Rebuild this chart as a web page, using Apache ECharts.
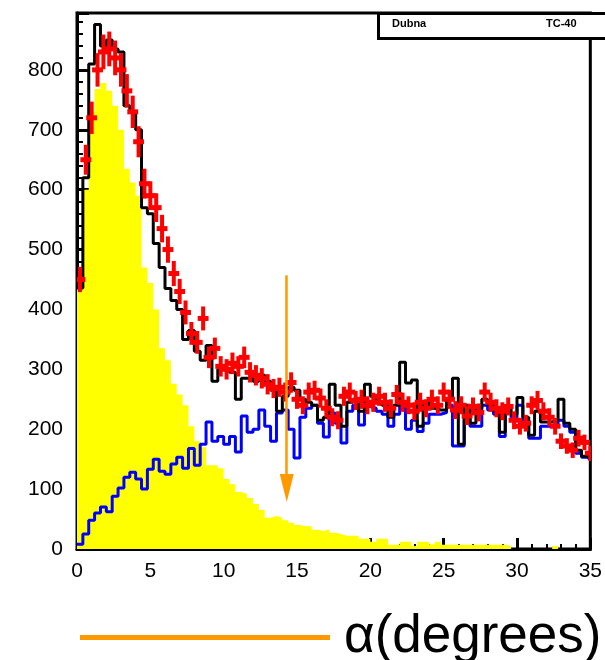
<!DOCTYPE html>
<html>
<head>
<meta charset="utf-8">
<script src="https://cdn.jsdelivr.net/npm/echarts@6/dist/echarts.min.js"></script>
<style>html,body{margin:0;padding:0;background:#fff}#c{width:605px;height:660px}</style>
</head>
<body>
<div id="c"></div>
<script>
// Bin layout: 0.4 degree bins from 0 to 35
const binWidth = 0.4;
const xTicks = [0, 5, 10, 15, 20, 25, 30, 35];
const yTicks = [0, 100, 200, 300, 400, 500, 600, 700, 800];

// Yellow filled histogram (component 1)
const yellowCounts = [436,600,730,768,778,765,740,700,635,612,
  590,470,444,400,335,315,276,258,240,205,
  180,170,140,140,135,117,108,95,92,85,
  75,65,52,55,52,48,44,40,38,38,
  32,30,33,27,25,22,22,22,17,17,
  12,17,17,7,7,12,12,5,12,12,
  8,12,7,7,7,7,7,7,7,7,
  7,7,7,5,0,0,0,0,0,0,
  0,5,0,0,0,0,0,0];

// Blue histogram (component 2)
const blueCounts = [8,25,48,60,70,62,88,102,120,128,
  117,100,133,150,130,125,142,153,135,168,
  140,175,212,180,188,175,188,162,222,195,
  200,232,205,180,227,232,200,152,220,235,
  240,210,187,227,210,177,230,240,207,238,
  235,230,225,205,225,240,200,215,196,210,
  225,225,228,240,172,172,225,205,205,240,
  232,225,188,228,220,240,215,185,185,205,
  205,208,215,205,195,160,153,150];

// Black histogram (total simulation)
const blackCounts = [436,620,810,876,840,850,835,830,740,730,
  700,570,560,510,470,435,415,400,350,365,
  330,315,340,280,300,300,295,250,285,285,
  280,290,280,265,230,255,270,265,250,245,
  240,215,220,275,240,205,245,250,230,275,
  255,245,240,220,240,312,277,282,205,245,
  235,232,232,250,285,175,240,210,235,250,
  240,230,195,235,225,253,220,190,230,212,
  212,215,250,210,200,165,155,153];

// Red data points with errors
const redCounts = [450,650,720,800,830,835,820,800,765,730,
  680,610,590,570,535,500,460,430,395,360,
  345,385,320,335,305,300,310,305,320,295,
  290,285,275,268,270,262,278,250,240,262,
  265,252,235,220,215,255,262,248,250,240,
  245,255,245,235,258,245,240,230,245,235,
  250,240,262,250,232,240,222,238,228,262,
  245,235,230,238,215,205,210,240,248,230,
  220,205,180,172,165,185,178,160];
const redErrors = [21,25,27,28,29,29,29,28,28,27,
  26,25,24,24,23,22,21,21,20,19,
  19,20,18,18,17,17,18,17,18,17,
  17,17,17,16,16,16,17,16,15,16,
  16,16,15,15,15,16,16,16,16,15,
  16,16,16,15,16,16,15,15,16,15,
  16,15,16,16,15,15,15,15,15,16,
  16,15,15,15,15,14,14,15,16,15,
  15,14,13,13,13,14,13,13];

// Cut arrow (alpha cut) annotation
const cutName = 'α(degrees)';
const cutX = 14.3;
const cutTop = 457;
const cutBottom = 102;

const xMin = 0, xMax = 35, yMin = 0, yMax = 895;

function stepData(counts) {
  const d = counts.map((v, i) => [i * binWidth, v]);
  d.push([xMax, counts[counts.length - 1]]);
  return d;
}
const redData = redCounts.map((v, i) => [(i + 0.5) * binWidth, v, redErrors[i]]);

const chart = echarts.init(document.getElementById('c'), null, {renderer: 'canvas'});
const font = 'Liberation Sans, Arial, sans-serif';
chart.setOption({
  animation: false,
  backgroundColor: '#ffffff',
  grid: {left: 77, right: 11, top: 13, bottom: 111, show: true, borderColor: '#000', borderWidth: 3, backgroundColor: 'transparent'},
  xAxis: {
    type: 'value', min: xMin, max: xMax, interval: 5,
    axisLine: {onZero: false, lineStyle: {color: '#000', width: 3}},
    axisTick: {inside: true, length: 11, lineStyle: {color: '#000', width: 3}},
    minorTick: {show: true, splitNumber: 5, length: 5, lineStyle: {color: '#000', width: 2}},
    splitLine: {show: false},
    axisLabel: {color: '#000', fontSize: 21, fontFamily: font, margin: 12,
      formatter: v => xTicks.includes(v) ? String(v) : ''}
  },
  yAxis: {
    type: 'value', min: yMin, max: yMax, interval: 100,
    axisLine: {onZero: false, lineStyle: {color: '#000', width: 3}},
    axisTick: {inside: true, length: 12, lineStyle: {color: '#000', width: 3}},
    minorTick: {show: true, splitNumber: 5, length: 6, lineStyle: {color: '#000', width: 2}},
    splitLine: {show: false},
    axisLabel: {color: '#000', fontSize: 21, fontFamily: font, margin: 14, showMaxLabel: false,
      formatter: v => yTicks.includes(v) ? String(v) : ''}
  },
  legend: {
    left: 75, top: 606,
    itemWidth: 250, itemHeight: 5, icon: 'rect',
    data: [{name: cutName, icon: 'rect'}],
    textStyle: {fontSize: 53, fontFamily: font, color: '#000', padding: [0, 0, 0, 9]},
    selectedMode: false
  },
  series: [
    {type: 'line', name: 'yellow', step: 'end', data: stepData(yellowCounts), showSymbol: false, symbol: 'none',
      lineStyle: {width: 0, color: '#ffff00'}, itemStyle: {color: '#ffff00'}, areaStyle: {color: '#ffff00', opacity: 1}, z: 1, clip: true},
    {type: 'line', name: 'blue', step: 'end', data: stepData(blueCounts), showSymbol: false, symbol: 'none',
      lineStyle: {width: 3, color: '#0000ff'}, itemStyle: {color: '#0000ff'}, z: 2, clip: true},
    {type: 'line', name: 'black', step: 'end', data: stepData(blackCounts), showSymbol: false, symbol: 'none',
      lineStyle: {width: 3, color: '#000000'}, itemStyle: {color: '#000000'}, z: 3, clip: true},
    {type: 'custom', name: 'data', data: redData, z: 4, clip: true,
      renderItem: function (params, api) {
        const xc = api.value(0), y = api.value(1), e = api.value(2);
        const l = api.coord([xc - binWidth / 2, y]), r = api.coord([xc + binWidth / 2, y]);
        const t = api.coord([xc, y + e]), b = api.coord([xc, y - e]);
        return {type: 'group', children: [
          {type: 'line', shape: {x1: l[0], y1: l[1], x2: r[0], y2: r[1]}, style: {stroke: '#ff0000', lineWidth: 5, lineCap: 'square'}},
          {type: 'line', shape: {x1: t[0], y1: t[1], x2: b[0], y2: b[1]}, style: {stroke: '#ff0000', lineWidth: 4}}
        ]};
      }
    },
    {type: 'line', name: cutName, data: [], itemStyle: {color: '#ff9900'}, lineStyle: {color: '#ff9900'}, z: 5,
      markLine: {
        silent: true, animation: false,
        symbol: ['none', 'triangle'], symbolSize: [14, 28],
        label: {show: false},
        lineStyle: {color: '#ff9900', width: 2.5, type: 'solid'},
        data: [[{coord: [cutX, cutTop]}, {coord: [cutX, cutBottom]}]]
      }
    }
  ],
  graphic: [
    {type: 'rect', left: 377, top: 12, z: 100,
      shape: {width: 240, height: 25}, style: {fill: '#fff', stroke: '#000', lineWidth: 3}},
    {type: 'text', left: 392, top: 18, z: 101,
      style: {text: 'Dubna', fontSize: 11, fontWeight: 'bold', fontFamily: font, fill: '#000'}},
    {type: 'text', left: 546, top: 18, z: 101,
      style: {text: 'TC-40', fontSize: 11, fontWeight: 'bold', fontFamily: font, fill: '#000'}}
  ]
});
</script>
</body>
</html>
